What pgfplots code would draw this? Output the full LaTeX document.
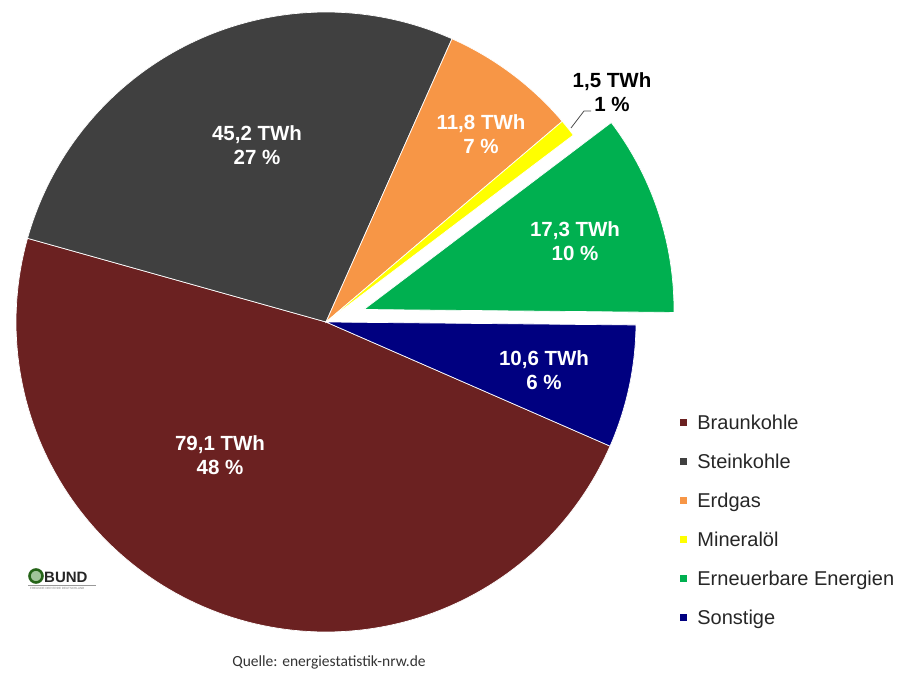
\documentclass[border=0pt]{standalone}
\usepackage{pgfplots}
\pgfplotsset{compat=1.18}
\usepackage{fontspec}
\setmainfont{Liberation Sans}
\newfontfamily\calibri{Carlito}
\definecolor{cBraun}{HTML}{6B2121}
\definecolor{cStein}{HTML}{404040}
\definecolor{cGas}{HTML}{F79646}
\definecolor{cOel}{HTML}{FFFF00}
\definecolor{cEE}{HTML}{00B050}
\definecolor{cSonst}{HTML}{000080}
\definecolor{cBund}{HTML}{2E7D1E}
\begin{document}
\begin{tikzpicture}
% values in TWh
\def\vA{79.1}% Braunkohle
\def\vB{45.2}% Steinkohle
\def\vC{11.8}% Erdgas
\def\vD{1.5}%  Mineraloel
\def\vE{17.3}% Erneuerbare Energien
\def\vF{10.6}% Sonstige
\pgfmathsetmacro\total{\vA+\vB+\vC+\vD+\vE+\vF}
\def\cx{326}\def\cy{322}\def\r{310}
\pgfmathsetmacro\aA{-23.6}
\pgfmathsetmacro\aB{\aA-\vA/\total*360}
\pgfmathsetmacro\aC{\aB-\vB/\total*360+360}
\pgfmathsetmacro\aD{\aC-\vC/\total*360}
\pgfmathsetmacro\aE{\aD-\vD/\total*360}
\pgfmathsetmacro\aF{\aE-\vE/\total*360}
\pgfmathsetmacro\aG{\aF-\vF/\total*360}
\pgfmathsetmacro\mE{(\aE+\aF)/2}
\pgfmathsetmacro\ex{\cx+40*cos(\mE)}
\pgfmathsetmacro\ey{\cy-40*sin(\mE)}
\begin{axis}[
  scale only axis, width=899pt, height=674pt,
  xmin=0, xmax=899, ymin=0, ymax=674, y dir=reverse,
  hide axis, clip=false,
  legend cell align=left,
  legend image code/.code={\fill[#1] (0pt,-4pt) rectangle (8pt,4pt); \path (16pt,0pt);},
  legend style={at={(axis cs:679,413)}, anchor=north west, draw=none, fill=none,
    font=\fontsize{20}{23}\selectfont, text=black!85, row sep=20pt,
    inner sep=0pt, nodes={inner sep=1.5pt}},
  every axis plot/.append style={draw=white, line width=0.7pt},
]
\path (rel axis cs:0,0) rectangle (rel axis cs:1,1);
\addplot[fill=cBraun, domain=\aB:\aA, samples=120, variable=\t]
  ({\cx+\r*cos(\t)},{\cy-\r*sin(\t)}) -- (\cx,\cy) -- cycle;
\addlegendentry{Braunkohle}
\addplot[fill=cStein, domain=\aC:360+\aB, samples=80, variable=\t]
  ({\cx+\r*cos(\t)},{\cy-\r*sin(\t)}) -- (\cx,\cy) -- cycle;
\addlegendentry{Steinkohle}
\addplot[fill=cGas, domain=\aD:\aC, samples=30, variable=\t]
  ({\cx+\r*cos(\t)},{\cy-\r*sin(\t)}) -- (\cx,\cy) -- cycle;
\addlegendentry{Erdgas}
\addplot[fill=cOel, domain=\aE:\aD, samples=8, variable=\t]
  ({\cx+\r*cos(\t)},{\cy-\r*sin(\t)}) -- (\cx,\cy) -- cycle;
\addlegendentry{Mineralöl}
\addplot[fill=cEE, domain=\aF:\aE, samples=40, variable=\t]
  ({\ex+\r*cos(\t)},{\ey-\r*sin(\t)}) -- (\ex,\ey) -- cycle;
\addlegendentry{Erneuerbare Energien}
\addplot[fill=cSonst, domain=\aG:\aF, samples=30, variable=\t]
  ({\cx+\r*cos(\t)},{\cy-\r*sin(\t)}) -- (\cx,\cy) -- cycle;
\addlegendentry{Sonstige}
% data labels
\begin{scope}[every node/.style={font=\bfseries\fontsize{20.5}{24}\selectfont, align=center, text=white}]
\node at (257,145) {45,2 TWh\\27 \%};
\node at (481,134) {11,8 TWh\\7 \%};
\node at (575,241) {17,3 TWh\\10 \%};
\node at (544,370) {10,6 TWh\\6 \%};
\node at (220,455) {79,1 TWh\\48 \%};
\node[text=black] at (612,92) {1,5 TWh\\1 \%};
\end{scope}
\draw[black!70, line width=0.8pt] (571,128) -- (584,111) -- (591,111);
% logo
\draw[cBund!80!black, line width=2.6pt, fill=cBund!45!white] (36,576) circle (6.5pt);
\node[anchor=west, font=\bfseries\fontsize{15}{15}\selectfont, text=black!85, inner sep=0pt] at (44,577) {BUND};
\draw[black!40, line width=0.5pt] (28,585) -- (96,585);
\node[anchor=north west, font=\fontsize{3}{3}\selectfont, text=black!50, inner sep=0pt] at (30,587) {FREUNDE DER ERDE DEUTSCHLAND};
% source
\node[font=\calibri\fontsize{15.5}{17}\selectfont, text=black!80] at (329,662) {Quelle: energiestatistik-nrw.de};
\end{axis}
\end{tikzpicture}
\end{document}
